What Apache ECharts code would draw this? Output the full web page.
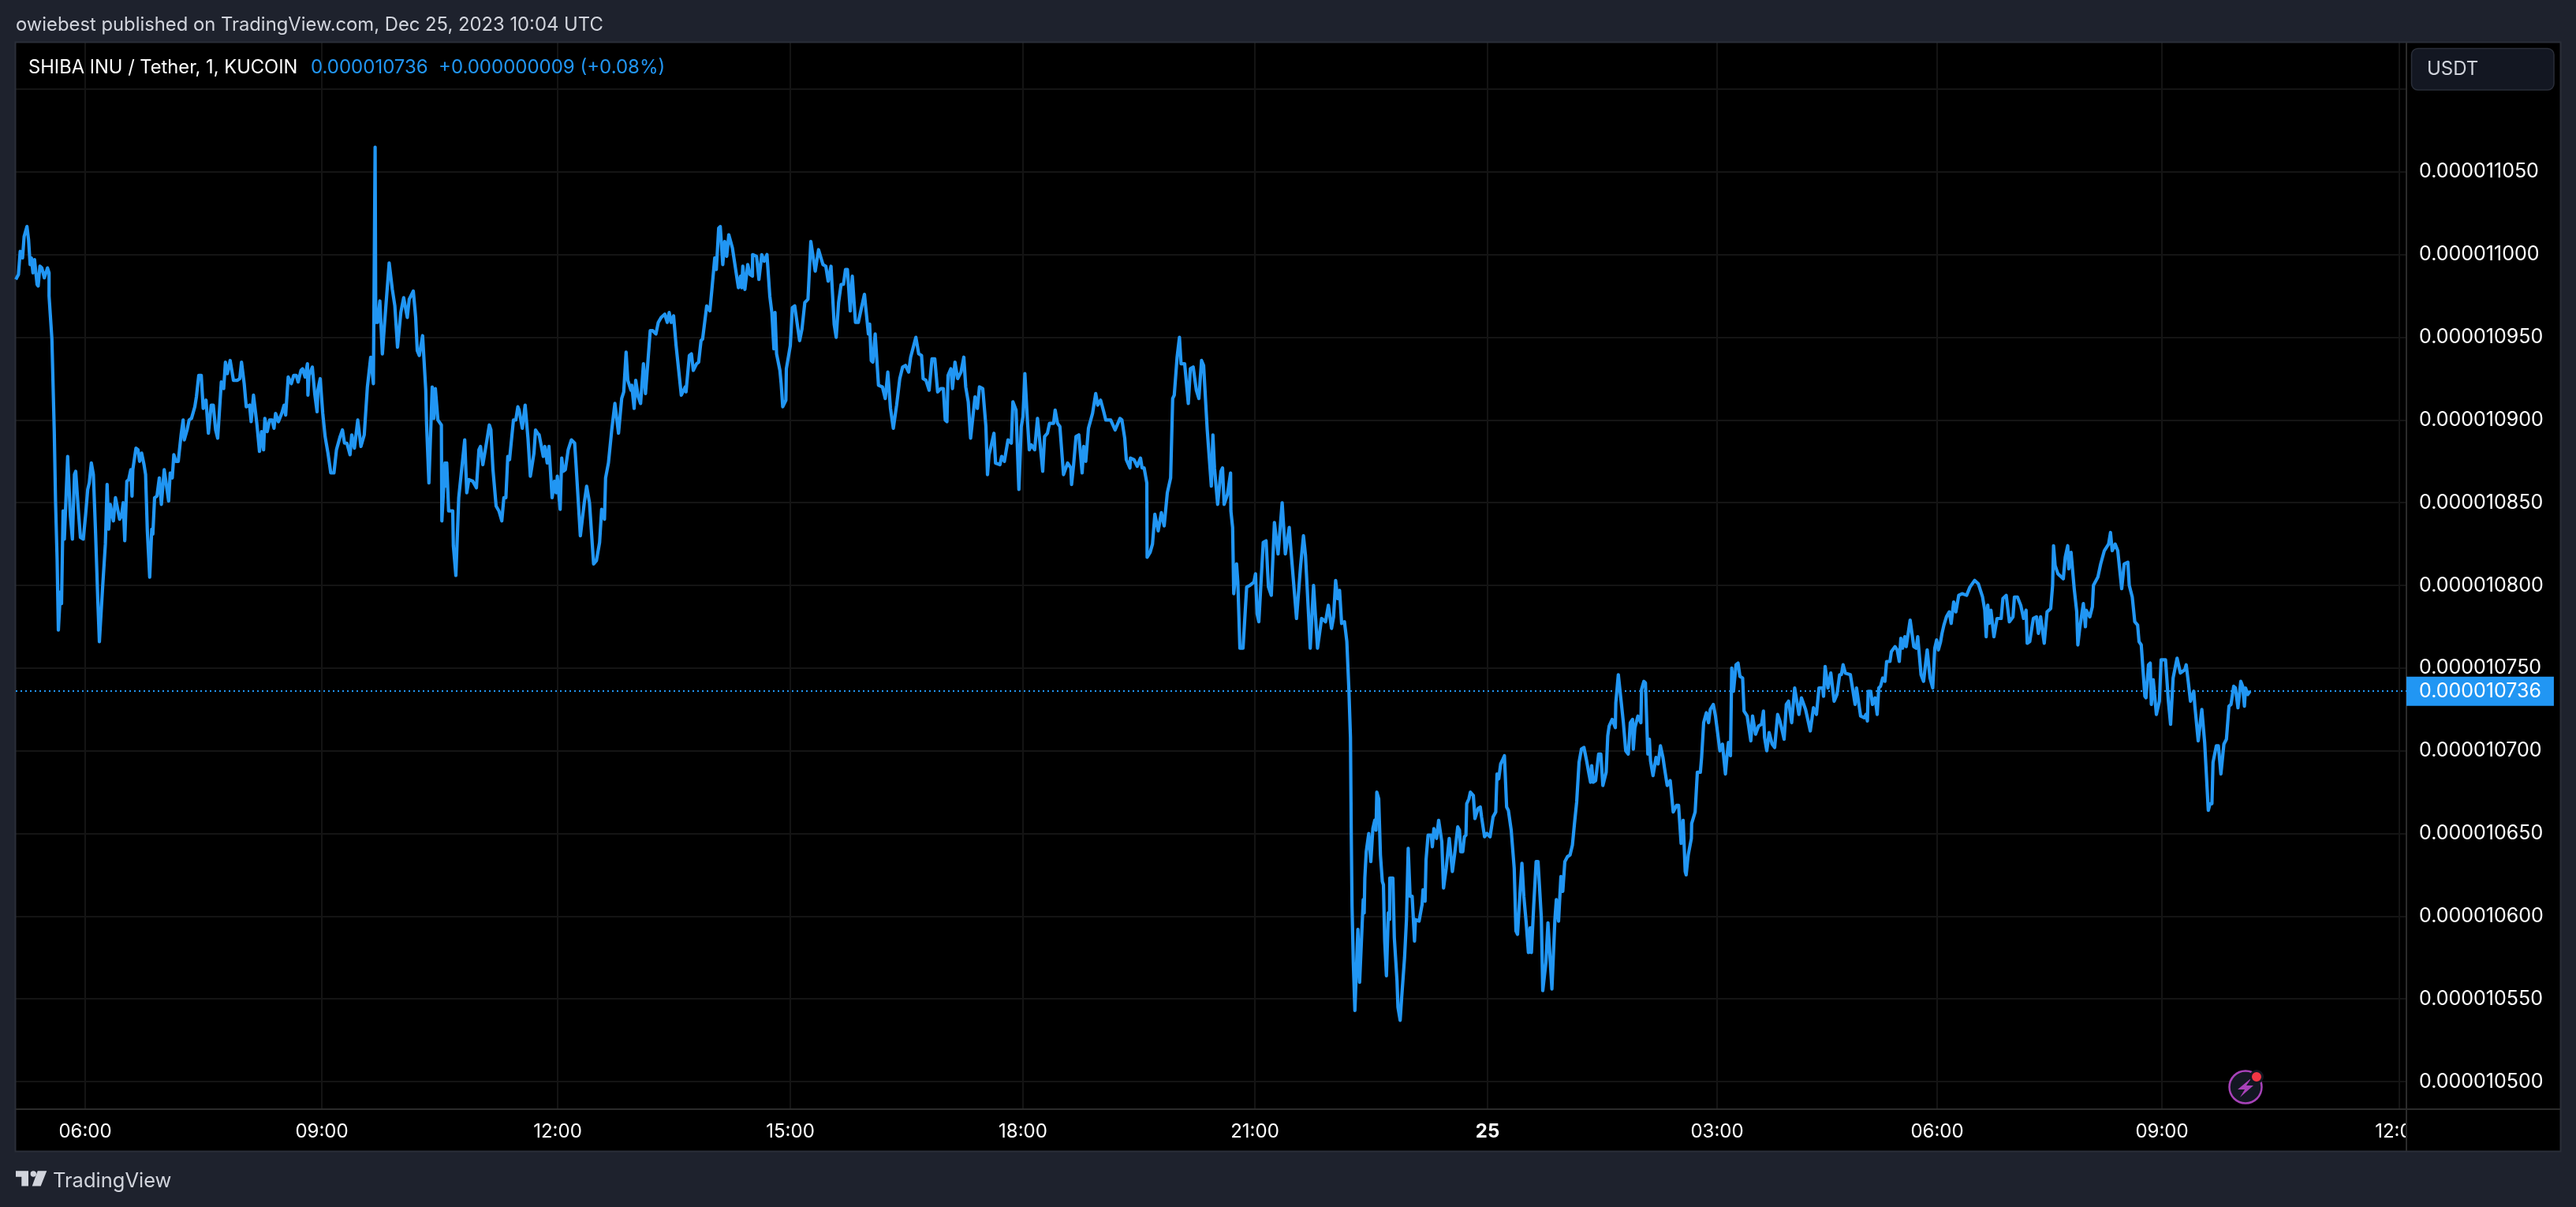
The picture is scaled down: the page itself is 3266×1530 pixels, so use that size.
<!DOCTYPE html>
<html>
<head>
<meta charset="utf-8">
<title>SHIBA INU / Tether</title>
<style>
html,body{margin:0;padding:0;background:#1e222d;}
#chart{width:3266px;height:1530px;}
</style>
<script src="https://cdn.jsdelivr.net/npm/echarts@6/dist/echarts.min.js"></script>
</head>
<body>
<div id="chart"></div>
<script>
/* tick labels, x values are bar positions on the axis */
var timeTicks = [44,194,343.5,491,638.5,785.5,933,1078.5,1218,1360.5,1511];
var timeLabels = ['06:00','09:00','12:00','15:00','18:00','21:00','25','03:00','06:00','09:00','12:00'];
var priceTicks = [10500,10550,10600,10650,10700,10750,10800,10850,10900,10950,11000,11050,11100];
var lastPrice = 10736;

/* price, in 1e-9 USDT */
var barsA = [0,1.7,2.8,4.3,5.3,7.1,8.1,9.1,9.9,10.9,11.9,13.5,14.2,15.3,16.5,18.1,20.1,21.1,21.1,22.9,24.4,25.2,26.2,27,28.3,29,30,30.8,32.9,34.6,35.9,37.2,38,39.7,41,42.8,44.3,45.6,46.6,47.9,49.2,50.5,52,53,55,56.8,57.9,58.9,59.9,61.9,63.2,64.2,65.8,67,68.1,69.1,70.4,71.6,72.9,73.7,74.2,76.2,77.5,78.5,79.8,81.3,82.3,83.4,84.9,86.2,86.9,88,89.5,91,92.3,94.1,95.1,96.9,97.9,99.2,100.2,101.5,103,104.8,106.1,106.8,108.6,109.9,111.4,113.5,114.5,116,117.6,118.8,120.6,122.1,123.9,125.2,126.7,128,130.3,131.8,132.9,134.1,135.9,138,140.5,142,143.1,144.8,146.1,148.2,149.2,150.7,152.8,154.5,155.8,157.1,157.9,159.4,160.9,162.5,163.7,164.7,166.5,168.6,170.1,171.1,172.7,174.7,176.2,177.8,179,180.8,181.8,183.4,184.9,185.2,185.9,188,189.5,191,191.5,193,194.6,195.6,196.1,197.9,199.7,201.7,203.3,205.6,207.1,208.4,209.9,211.9,213,214.7,216.8,218.8,220.9,222.9,225,226.7,227.8,228.2,229.3,230.8,232.4,233.6,236.7,238.7,240.3,242,244.1,245.9,248.2,249.4,252,253.5,254.5,255.8,257.9,259.9,260.4,261.9,264,265,266,267.6,269.8,270.1,272.1,272.4,273.2,274.4,277,277.4,279,280.8,284.6,285.9,287.2,289.7,292,293.6,294.6,296.1,298.7,300.2,301.2,302.5,304.5,306.3,308.1,309.4,310.7,311.9,313,315.5,317,318.3,319.1,321.1,322.9,324.7,326.2,328.5,329.5,330.8,331.8,334.4,335.4,336.9,338,340,341.5,342.6,343.3,345.1,346.1,347.1,348.4,350.2,352.2,354.3,355.3,357.9,360.4,361.9,363.7,366.3,368.1,370.1,371.4,373.2,373.9,375.7,377.8,379.8,382.1,384.1,385.4,386.9,388,390];
var pricesA = [10985,10988,11002,10998,11011,11017,11009,10994,10998,10989,10997,10982,10981,10993,10992,10986,10992,10989,10975,10949,10893,10851,10816,10773,10796,10789,10845,10828,10878,10842,10828,10867,10869,10845,10829,10828,10843,10858,10862,10874,10867,10834,10791,10766,10798,10825,10861,10834,10849,10839,10853,10853,10840,10842,10850,10827,10863,10864,10870,10854,10870,10883,10882,10875,10880,10873,10867,10833,10805,10834,10831,10853,10854,10865,10849,10870,10870,10851,10868,10865,10879,10875,10875,10891,10900,10888,10894,10900,10901,10908,10914,10927,10927,10907,10912,10892,10909,10909,10894,10889,10923,10919,10935,10928,10936,10924,10924,10925,10935,10922,10908,10909,10899,10915,10898,10881,10893,10882,10901,10893,10900,10900,10895,10904,10899,10904,10909,10903,10926,10922,10927,10927,10923,10930,10931,10926,10934,10915,10927,10932,10916,10905,10918,10925,10904,10904,10890,10880,10868,10868,10882,10890,10894,10886,10886,10879,10891,10883,10900,10884,10891,10920,10938,10922,11065,10959,10959,10972,10940,10956,10995,10979,10969,10944,10965,10974,10962,10973,10978,10962,10942,10939,10951,10918,10898,10862,10920,10901,10919,10900,10897,10839,10874,10860,10874,10845,10845,10824,10806,10853,10888,10856,10864,10863,10859,10882,10884,10873,10888,10897,10894,10870,10848,10845,10839,10853,10853,10878,10876,10900,10900,10908,10906,10895,10909,10889,10866,10880,10894,10892,10891,10878,10884,10874,10884,10853,10863,10856,10866,10846,10877,10869,10870,10882,10888,10886,10871,10830,10850,10860,10850,10813,10815,10826,10846,10840,10865,10874,10894,10910,10892,10913,10917,10941,10924,10918];

var barsB = [390.5,392,393,394.6,396.1,397.9,399.2,402.2,403.8,405.8,407.3,409.1,411.4,413,414.2,415.5,417,418.6,421.9,424.4,424.9,427,428.3,429.5,431.6,432.9,434.4,435.4,438,440,441.3,443.1,444.1,445.6,446.6,448.2,449.4,450.7,452,454.3,458.1,459.4,460.2,460.9,462.2,464,465.5,467,467.1,469.6,471.1,472.9,474.4,476.2,478,479.3,480.6,481.3,482.3,484.4,485.2,486.2,488.2,488.5,491,492.3,493.8,495.4,496.9,498.4,500.2,502.2,504,505,506.8,508.9,511.7,513.5,515,516.8,518.8,520.1,521.6,523.2,524.7,526,527.2,529,530.3,532.3,534.1,535.9,538,540.5,541.3,542.3,543.3,544.8,546.9,549.4,551.2,552.8,554.5,556.3,558.4,560.4,562.2,564,566,567.3,570.6,572.4,574.2,575.2,577,579,580.8,582.6,584.4,586.4,588,589.2,590.3,591,592.8,593.8,595.4,597.1,599.2,601,602.2,603.8,605.3,608.1,609.6,610.9,613,615,616,617,620.1,621.1,623.9,625,626.7,629,631.1,632.1,634.1,635.9,637.4,638.5,639.7,641.3,642.5,643.8,645.9,647.7,649.7,651,652.2,654,655.3,657.9,658.9,660.4,661.9,664.2,666.8,668.8,669.3,670.6,672.1,673.9,676,677,678.3,680,682.6,684.6,685.9,687.7,689.7,691,694.1,696.9,700,701.2,703,704,706.3,706.6,708.9,710.9,713,714,715.3,717,717.2,719.1,720.6,722.1,724.2,726.2,728,730,732.1,733.4,734.4,736.2,737.7,738.7,741,743.3,744.6,746.4,748.4,750,751.7,753,755.3,757.9,758.9,759.9,761.9,764,765,766,768.1,770.1,770.3,771.4,772.1,773.9,774.7,776,778,780.3,782.3,784.9,785.9,786.9,788,790];
var pricesB = [10921,10907,10924,10914,10910,10934,10916,10954,10954,10952,10959,10962,10964,10959,10965,10959,10963,10945,10915,10920,10917,10939,10940,10930,10934,10935,10948,10949,10969,10966,10979,10998,10991,11016,11017,10994,11008,10999,11012,11004,10980,10987,10980,10993,10979,10994,10988,10987,11000,10999,10985,11000,10996,11000,10975,10965,10943,10965,10940,10930,10922,10908,10912,10931,10945,10968,10969,10958,10948,10955,10971,10973,11008,11008,10990,11003,10994,10993,10984,10993,10958,10950,10971,10982,10982,10991,10991,10966,10987,10959,10959,10967,10976,10952,10958,10936,10935,10952,10921,10920,10913,10929,10907,10895,10909,10925,10932,10933,10929,10938,10950,10940,10939,10925,10924,10918,10937,10937,10917,10919,10919,10900,10899,10927,10931,10919,10935,10925,10929,10938,10920,10911,10889,10914,10907,10920,10919,10896,10867,10879,10892,10874,10873,10878,10875,10888,10886,10911,10906,10858,10896,10902,10928,10900,10882,10885,10882,10901,10882,10869,10890,10892,10898,10898,10906,10898,10896,10867,10874,10871,10861,10873,10890,10891,10868,10884,10875,10895,10904,10916,10909,10912,10905,10900,10900,10894,10901,10900,10889,10876,10871,10877,10876,10872,10877,10871,10871,10862,10817,10820,10825,10843,10833,10844,10836,10856,10865,10913,10915,10938,10950,10934,10934,10910,10931,10932,10918,10913,10936,10933,10894,10860,10891,10871,10849,10869,10871,10849,10855,10868,10845,10835,10795,10813,10802,10762,10762,10799,10800,10802,10807,10783,10778,10812];

var barsC = [790.8,792.6,794.1,795.9,797.9,800.2,802.8,804.8,807.3,808.4,811.9,814.5,816.3,817.6,819.6,820.6,822.7,825.2,827.8,830.3,832.1,834.1,835.4,836.7,838,839.2,840.5,842.3,843.8,845.1,846.1];
var pricesC = [10826,10827,10799,10794,10838,10819,10850,10819,10835,10821,10780,10812,10830,10818,10781,10762,10800,10762,10780,10778,10788,10774,10781,10803,10792,10797,10777,10778,10766,10737,10708];

var barsD = [846.6,847.1,847.9,848.9,849.4,850.8,851.9,854.2,854.8,855.2,856.1,857.7,859,860.3,861.5,862.3,862.8,864,865.1,866.3,867,867.8,868.9,870.1,870.9,871,873,873.9,874.9,875.6,876.2,877.6,878.5,880.4,881.6,882.7,883.9,885.2,886.7,887.3,889.6,891.5,892.1,893.4,894,895.3,897.3,898,899,900.7,902,903,904,905.1,906.8,908.7,909.7,910.7,912.2,914.1,915.2,916,917.3,918.3,919.3,919.8,921.2,922.1,924,925,926.9,928.4,929.2,931.1,932.6,934.6,936.5,938.2,939,940.1,941.3,942.8,943.7,945.1,946.2,948,949.9,951,952,953.5,954.8,956,957.5,958.9,960,960.8,962.3,963.8,965,967.1,968,970,971.3,972.2,973.8,975.7,976.6,978,979.5,980.7,982,983.7,985.3,986.8,988.1,989.5,991,992.5,994.1,995.8,997.1,998.3,999,1000,1001.5,1003.4,1004.8,1006.1,1008.2,1009.2,1010.1,1012,1014,1014.3,1015.9,1017.8,1019.1,1020.6,1022.2,1023.5,1024.9,1025.4,1026.4,1028.3,1030.2,1030.6,1032.1,1033.1,1034.6,1035.6,1036.3,1037.9,1039.8,1041.1,1042.6,1044.2,1045.1,1046.9,1048.8,1050.7,1052.8,1054.1,1055.7,1057,1058.3,1058.9,1060.2,1062.2,1062.4,1064.6,1066,1067.9,1068.7,1070,1071.7,1073.1,1074.2,1076.1,1077.5,1080.3,1081.9,1083.8,1084.7,1085.7,1087,1087.8,1088.9,1090.5,1091.8,1093,1094.7,1095.6,1097.6,1099.9,1101,1102.9,1104.8,1106.7,1107.9,1108.6,1110,1111.5,1113.4,1115];
var pricesD = [10650,10606,10572,10543,10543,10592,10560,10610,10602,10623,10639,10650,10633,10653,10658,10652,10675,10671,10637,10621,10619,10585,10564,10602,10598,10623,10623,10587,10587,10561,10545,10537,10550,10575,10598,10641,10612,10612,10585,10598,10597,10607,10616,10609,10634,10649,10649,10642,10653,10647,10658,10658,10645,10617,10629,10647,10637,10627,10638,10654,10652,10639,10639,10648,10649,10668,10671,10675,10673,10659,10665,10666,10660,10648,10650,10648,10660,10663,10686,10683,10692,10695,10697,10666,10664,10652,10629,10591,10589,10613,10632,10612,10596,10578,10593,10578,10607,10633,10633,10599,10555,10572,10596,10596,10556,10598,10610,10597,10624,10615,10633,10636,10637,10643,10656,10669,10693,10701,10702,10694,10687,10681,10691,10681,10682,10698,10698,10679,10687,10709,10715,10719,10714,10729,10746,10729,10717,10700,10698,10717,10719,10701,10714,10721,10717,10737,10742,10741,10698,10707,10694,10685,10696,10692,10703,10696,10690,10679,10682,10663,10667,10667,10644,10658,10627,10625,10637,10647,10656,10663,10687,10687,10696,10717,10723,10717,10725,10728,10721,10700,10704,10686,10696,10705,10697,10750,10736,10752,10753,10745,10744,10724,10721,10706,10721,10710,10715,10716,10724,10708,10700,10711,10704,10702];

var barsE = [1116.9,1118.3,1119.6,1121,1122.4,1123.8,1125.8,1127.7,1130.4,1132,1134.6,1137.6,1139.6,1141.5,1143.1,1145.4,1146,1147,1148.8,1150.6,1152.7,1154.5,1156.2,1157.3,1158.4,1159.8,1163,1166,1166.9,1169.5,1171.8,1172.9,1173.8,1174.3,1175.9,1177,1178.7,1180,1181,1182.1,1183.5,1184.9,1186,1188.1,1189,1191.3,1192.7,1194,1195,1196.1,1197.5,1198.4,1200.9,1203.2,1204.8,1205.7,1207.8,1209.4,1211.7,1213.5,1215.2,1216.5,1217.7,1218.8,1220.2,1221.1,1222.3,1223.9,1225.7,1226.9,1228.5,1229.9,1231.7,1233.8,1236.7,1238.8,1241.8,1244.1,1246.8,1248.2,1249.1,1250.1,1251,1252.1,1254,1256,1258.6,1259.7,1261.8,1263.8,1266.1,1267,1268.9,1271,1272.8,1274.4,1275.1,1276.7,1279,1281,1282.2,1283.6,1285.9,1287.7,1290,1291.2,1291.8,1292.8,1294.6,1298,1299.2,1300.8,1301.5,1302.9,1304.9,1306.5,1307.2,1308.4,1310.7,1312,1312.5,1314.8,1316.4,1317.1,1319.9,1321.7,1324,1326.7,1327.9,1329,1330.9,1332.5,1335,1336.6,1338.9,1339.8,1341.7,1343.3,1345.1,1346,1347.4,1349.7,1350.4,1352,1353.1,1353.8,1355,1357,1358.9,1360,1362.8,1364.6,1366,1367.6,1370.1,1371,1372.2,1375,1375.9,1377.3,1378.6,1380.7,1381.4,1383.5,1385.8,1387.6,1389.9,1391,1392.2,1392.9,1395,1396.3,1397.9,1399.8,1401.4,1403,1404.3,1406,1407.1,1408.7,1410.5,1411.7,1412.8,1413.5,1414.9,1416.3];
var pricesE = [10722,10718,10713,10707,10728,10730,10717,10738,10722,10732,10725,10712,10726,10722,10738,10738,10733,10751,10738,10747,10730,10734,10746,10746,10752,10747,10746,10728,10738,10721,10720,10722,10718,10736,10736,10728,10732,10722,10738,10739,10744,10742,10754,10754,10760,10763,10761,10754,10768,10762,10769,10763,10779,10763,10762,10769,10746,10742,10761,10744,10738,10762,10767,10761,10766,10771,10776,10781,10784,10777,10790,10784,10794,10795,10794,10799,10803,10801,10793,10785,10769,10788,10777,10785,10769,10780,10780,10792,10794,10778,10781,10793,10793,10788,10780,10785,10765,10766,10780,10781,10771,10781,10765,10784,10786,10800,10824,10812,10807,10804,10817,10824,10810,10820,10798,10784,10764,10774,10789,10775,10785,10781,10787,10800,10805,10813,10821,10825,10832,10821,10825,10821,10798,10813,10814,10800,10793,10778,10776,10766,10764,10733,10732,10752,10753,10728,10743,10722,10730,10755,10755,10730,10716,10744,10756,10756,10747,10749,10752,10741,10730,10736,10727,10706,10725,10705,10664,10668,10668,10693,10703,10703,10686,10704,10707,10727,10728,10739,10738,10726,10742,10739,10727,10738,10734,10736];

var bars = barsA.concat(barsB, barsC, barsD, barsE);
var prices = pricesA.concat(pricesB, pricesC, pricesD, pricesE);
var lineData = [];
for (var i = 0; i < bars.length; i++) {
	lineData.push([bars[i], prices[i]]);
}

var BLUE = '#2196f3';
var FRAME = '#2a2e39';
var AXIS_LINE = '#2b2b2b';
var GRID_LINE = '#141414';
var SOFT_TEXT = '#d1d4dc';
var FONT = 'Inter';

function priceText(v) {
	return (v / 1e9).toFixed(9);
}

function text(x, y, str, fill, size, z) {
	return {
		type: 'text', x: x, y: y, z: z || 6,
		style: { text: str, fill: fill, font: size + 'px ' + FONT, textVerticalAlign: 'middle' }
	};
}

var chart = echarts.init(document.getElementById('chart'));
chart.setOption({
	animation: false,
	backgroundColor: '#1e222d',
	grid: { left: 20, right: 215, top: 54, bottom: 124 },
	xAxis: {
		type: 'value', min: 0, max: 1515.5, z: 0,
		axisLine: { show: false },
		axisTick: { show: false, customValues: timeTicks },
		splitLine: { show: true, lineStyle: { color: GRID_LINE, width: 2 } },
		axisLabel: {
			customValues: timeTicks, margin: 17, color: '#ffffff', fontSize: 24, fontFamily: FONT,
			formatter: function (v) {
				var s = timeLabels[timeTicks.indexOf(v)];
				return s === '25' ? '{b|25}' : s;
			},
			rich: { b: { fontWeight: 'bold', fontSize: 24, fontFamily: FONT, color: '#ffffff' } }
		}
	},
	yAxis: {
		type: 'value', position: 'right', min: 10483.3, max: 11128.2, z: 3,
		axisLine: { show: false },
		axisTick: { show: false, customValues: priceTicks },
		splitLine: { show: true, lineStyle: { color: GRID_LINE, width: 2 } },
		axisLabel: {
			customValues: priceTicks, margin: 16, color: '#ffffff', fontSize: 25, fontFamily: FONT,
			padding: [3, 0, 0, 0],
			formatter: priceText
		}
	},
	series: [{
		type: 'line', data: lineData, z: 5,
		showSymbol: false, symbol: 'none', smooth: false,
		lineStyle: { color: BLUE, width: 4.2, join: 'round' },
		markLine: {
			silent: true, symbol: 'none', animation: false,
			lineStyle: { color: BLUE, width: 2, type: [2, 4], opacity: 1 },
			label: {
				show: true, position: 'end', distance: 0,
				formatter: function (p) { return priceText(p.value); },
				color: '#ffffff', fontSize: 25, fontFamily: FONT,
				backgroundColor: BLUE, padding: [7, 16, 5, 16]
			},
			data: [{ yAxis: lastPrice }]
		}
	}],
	graphic: { elements: [
		// black chart pane under everything, covers for the price scale
		{ type: 'rect', z: -1, shape: { x: 20, y: 54, width: 3226, height: 1405 }, style: { fill: '#000000' } },
		{ type: 'rect', z: 1, shape: { x: 3052, y: 54, width: 194, height: 1405 }, style: { fill: '#000000' } },
		{ type: 'rect', z: 4, shape: { x: 3052, y: 54, width: 194, height: 68 }, style: { fill: '#000000' } },
		{ type: 'rect', z: 4, shape: { x: 19.5, y: 53.5, width: 3227, height: 1406 }, style: { fill: 'transparent', stroke: FRAME, lineWidth: 2 } },
		{ type: 'line', z: 4, shape: { x1: 3051, y1: 54, x2: 3051, y2: 1459 }, style: { stroke: AXIS_LINE, lineWidth: 2 } },
		{ type: 'line', z: 4, shape: { x1: 20, y1: 1406, x2: 3246, y2: 1406 }, style: { stroke: AXIS_LINE, lineWidth: 2 } },
		// currency button
		{ type: 'rect', z: 5, shape: { x: 3057.5, y: 61.5, width: 180.5, height: 52.5, r: 8 }, style: { fill: '#131722', stroke: FRAME, lineWidth: 1.5 } },
		text(3077, 88, 'USDT', SOFT_TEXT, 24),
		// headers
		text(20, 32, 'owiebest published on TradingView.com, Dec 25, 2023 10:04 UTC', SOFT_TEXT, 23.8),
		text(36, 86, 'SHIBA INU / Tether, 1, KUCOIN', '#ffffff', 23.7),
		text(394, 86, '0.000010736', BLUE, 24),
		text(556, 86, '+0.000000009 (+0.08%)', BLUE, 24),
		// footer logo
		{ type: 'polygon', z: 6, shape: { points: [[20,1484.3],[36,1484.3],[36,1503.5],[27.3,1503.5],[27.3,1491.7],[20,1491.7]] }, style: { fill: SOFT_TEXT } },
		{ type: 'circle', z: 6, shape: { cx: 42.3, cy: 1488, r: 3.7 }, style: { fill: SOFT_TEXT } },
		{ type: 'polygon', z: 6, shape: { points: [[47.7,1484.3],[59.3,1484.3],[51.7,1503.5],[40.7,1503.5]] }, style: { fill: SOFT_TEXT } },
		text(67, 1497, 'TradingView', SOFT_TEXT, 25.5),
		// lightning badge
		{ type: 'circle', z: 6, shape: { cx: 2847, cy: 1378, r: 20.5 }, style: { fill: '#131722', stroke: '#a742b8', lineWidth: 2.5 } },
		{ type: 'polygon', z: 6, shape: { points: [[2855,1366],[2837,1381],[2846,1381],[2840,1391],[2857,1376],[2848,1376]] }, style: { fill: '#a742b8' } },
		{ type: 'circle', z: 6, shape: { cx: 2861, cy: 1365, r: 7.5 }, style: { fill: '#f23645', stroke: '#131722', lineWidth: 3 } }
	] }
});
</script>
</body>
</html>
